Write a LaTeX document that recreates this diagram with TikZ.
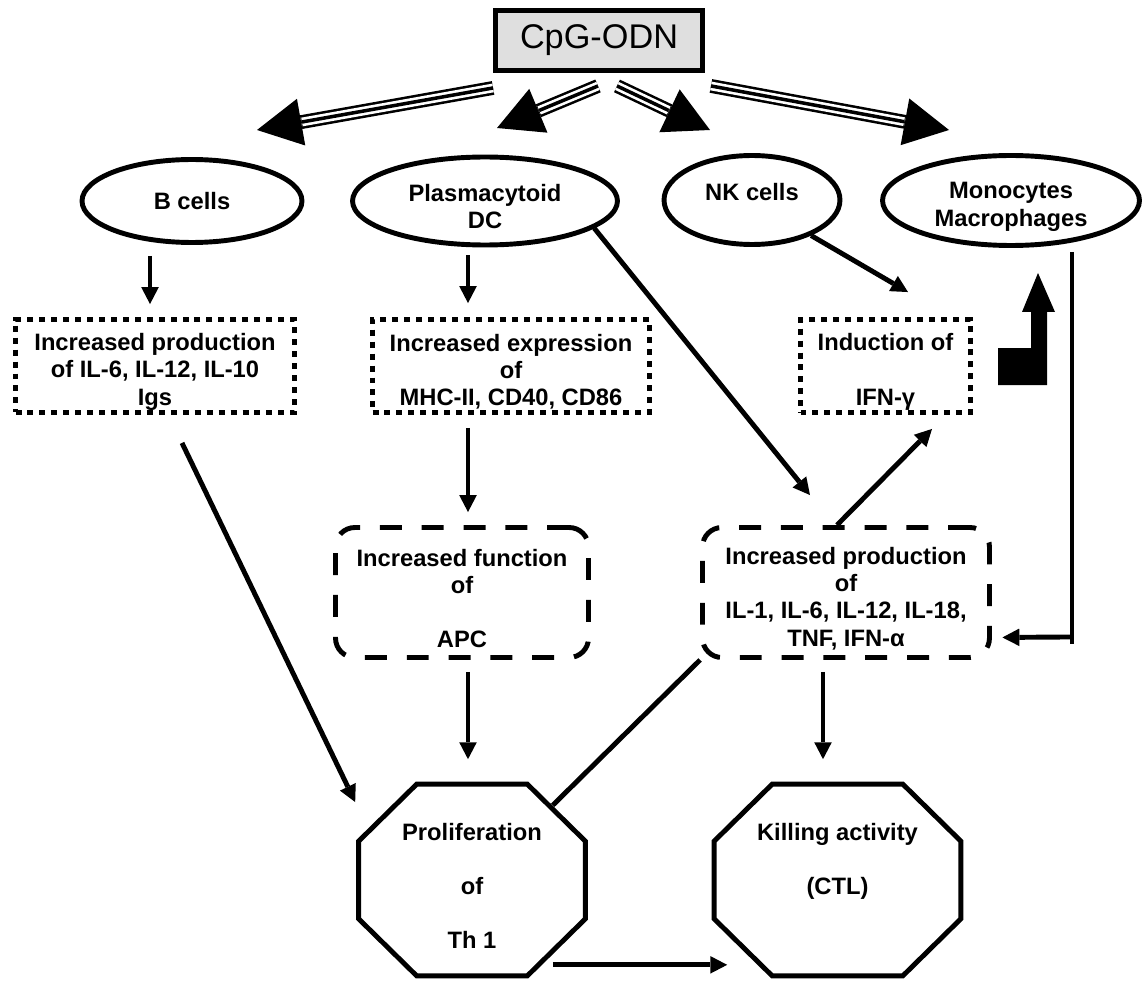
\documentclass[tikz,border=0pt]{standalone}
\usepackage{fontspec}
\setmainfont{Liberation Sans}
\usepackage{tikz}
\usetikzlibrary{arrows.meta, positioning, calc, shapes.geometric}

\tikzset{
  lbl/.style={font=\fontsize{13.5}{15.5}\selectfont\bfseries, align=center, inner sep=0pt},
  cell/.style={lbl, ellipse, draw, line width=2.8pt},
  dotbox/.style={lbl, draw, line width=2.8pt, dash pattern=on 3.4pt off 3.4pt},
  dashbox/.style={lbl, draw, line width=2.8pt, dash pattern=on 12.5pt off 11.3pt, rounded corners=11pt},
  octo/.style={lbl},
  octline/.style={line width=2.8pt, line join=miter},
  arr/.style={line width=2.8pt, -{Triangle[length=9.6pt, width=10pt, line width=0pt]}},
  link/.style={line width=2.8pt},
  trip/.style={line width=7.9pt, -{Triangle[length=25.5pt, width=27pt, line width=0pt]},
    postaction={draw, white, line width=5pt, -, shorten >=26pt},
    postaction={draw, black, line width=2pt, -, shorten >=26pt}}
}

% taller first line, to sit the text a little lower
\newcommand{\tstrut}{\rule{0pt}{16.5pt}}
% octagon drawn round a node
\newcommand{\octbox}[1]{\draw[octline] ($(#1.north west)+(58,0)$) -- ($(#1.north east)+(-58,0)$)
  -- ($(#1.north east)+(0,57)$) -- ($(#1.south east)+(0,-57)$) -- ($(#1.south east)+(-58,0)$)
  -- ($(#1.south west)+(58,0)$) -- ($(#1.south west)+(0,-57)$) -- ($(#1.north west)+(0,57)$) -- cycle;}

\begin{document}
\begin{tikzpicture}[x=0.02cm, y=-0.02cm]
    \useasboundingbox (0,0) rectangle (1143,983);
    % source
    \node[draw, line width=2.8pt, fill=gray!25, minimum width=4.14cm, minimum height=1.2cm, inner sep=0pt,
        font=\fontsize{19.5}{23}\selectfont] (cpg) at (599,40.5) {CpG-ODN};
    % cell types
    \node[cell, minimum width=4.4cm, minimum height=1.66cm] (bcell) at (192,201) {B cells};
    \node[cell, minimum width=5.3cm, minimum height=1.76cm] (plasma) at (485,201) {\tstrut Plasmacytoid\\DC};
    \node[cell, minimum width=3.52cm, minimum height=1.78cm] (nk) at (752,200) {\tstrut NK cells\\\mbox{}};
    \node[cell, minimum width=5.14cm, minimum height=1.8cm] (mono) at (1011,200.5) {\tstrut Monocytes\\Macrophages};
    % first effects
    \node[dotbox, minimum width=5.58cm, minimum height=1.86cm] (prodB) at (155,366) {\tstrut Increased production\\of IL-6, IL-12, IL-10\\Igs};
    \node[dotbox, minimum width=5.54cm, minimum height=1.86cm] (expr) at (511,366) {\tstrut Increased expression\\of\\MHC-II, CD40, CD86};
    \node[dotbox, minimum width=3.4cm, minimum height=1.86cm] (induc) at (885.5,366) {\tstrut Induction of\\[15.5pt]IFN-γ};
    \node[dashbox, minimum width=5.06cm, minimum height=2.6cm] (apc) at (462,592.5) {\tstrut Increased function\\of\\[15.5pt]APC};
    \node[dashbox, minimum width=5.74cm, minimum height=2.6cm] (cyto) at (846,592.5) {\tstrut Increased production\\of\\IL-1, IL-6, IL-12, IL-18,\\TNF, IFN-α};
    % outcomes
    \node[octo, minimum width=4.52cm, minimum height=3.82cm] (prol) at (472,880) {\tstrut Proliferation\\[15.5pt]of\\[15.5pt]Th 1};
    \node[octo, minimum width=4.92cm, minimum height=3.82cm] (kill) at (837.5,880) {\tstrut Killing activity\\[15.5pt](CTL)\\[15.5pt]\mbox{}};
    \octbox{prol}
    \octbox{kill}
    % triple arrows from CpG-ODN
    \coordinate (tipB) at (257,130);
    \coordinate (tipP) at (497,128);
    \coordinate (tipN) at (710,130);
    \coordinate (tipM) at (949,130);
    \draw[trip] ($(cpg.south west)+(0,15)$) -- (tipB);
    \draw[trip] ($(cpg.south)+(-1,13)$) -- (tipP);
    \draw[trip] ($(cpg.south)+(18,13)$) -- (tipN);
    \draw[trip] ($(cpg.south east)+(6,13)$) -- (tipM);
    % arrows
    \draw[arr] ($(bcell.south)+(-42,11)$) -- ($(prodB.north)+(-5,-13)$);
    \draw[arr] ($(plasma.south)+(-17,8)$) -- ($(expr.north)+(-43,-14)$);
    \draw[arr] ($(expr.south)+(-43,13)$) -- ($(apc.north)+(6,-13)$);
    \draw[arr] ($(apc.south)+(6,12)$) -- ($(prol.north)+(-4,-25)$);
    \draw[arr] ($(cyto.south)+(-23,12)$) -- ($(kill.north)+(-14.5,-25)$);
    \draw[arr] (plasma.-14) -- ($(cyto.north)+(-36,-30)$);
    \draw[arr] (nk.-31) -- ($(induc.north)+(22.5,-25)$);
    \draw[arr] ($(cyto.north)+(-9,0)$) -- ($(induc.south)+(46.5,14)$);
    \draw[arr] ($(prodB.south)+(27,28)$) -- ($(prol.west)+(-3.5,-78)$);
    \draw[arr] ($(prol.south east)+(-32.5,-11)$) -- ($(kill.south west)+(13,-11)$);
    \draw[link] (cyto.south west) -- ($(prol.north east)+(-32.5,21)$);
    \draw[link] ($(mono.south)+(61,4)$) -- ($(mono.south)+(61,396)$);
    \draw[arr] ($(mono.south)+(61,389)$) -- ($(cyto.south east)+(10.5,-22.5)$);
    % bent arrow
    \fill (998,385) -- (1047,385) -- (1047,312) -- (1055,312) -- (1038,273) -- (1022,312)
        -- (1031,312) -- (1031,348) -- (998,348) -- cycle;
\end{tikzpicture}
\end{document}
